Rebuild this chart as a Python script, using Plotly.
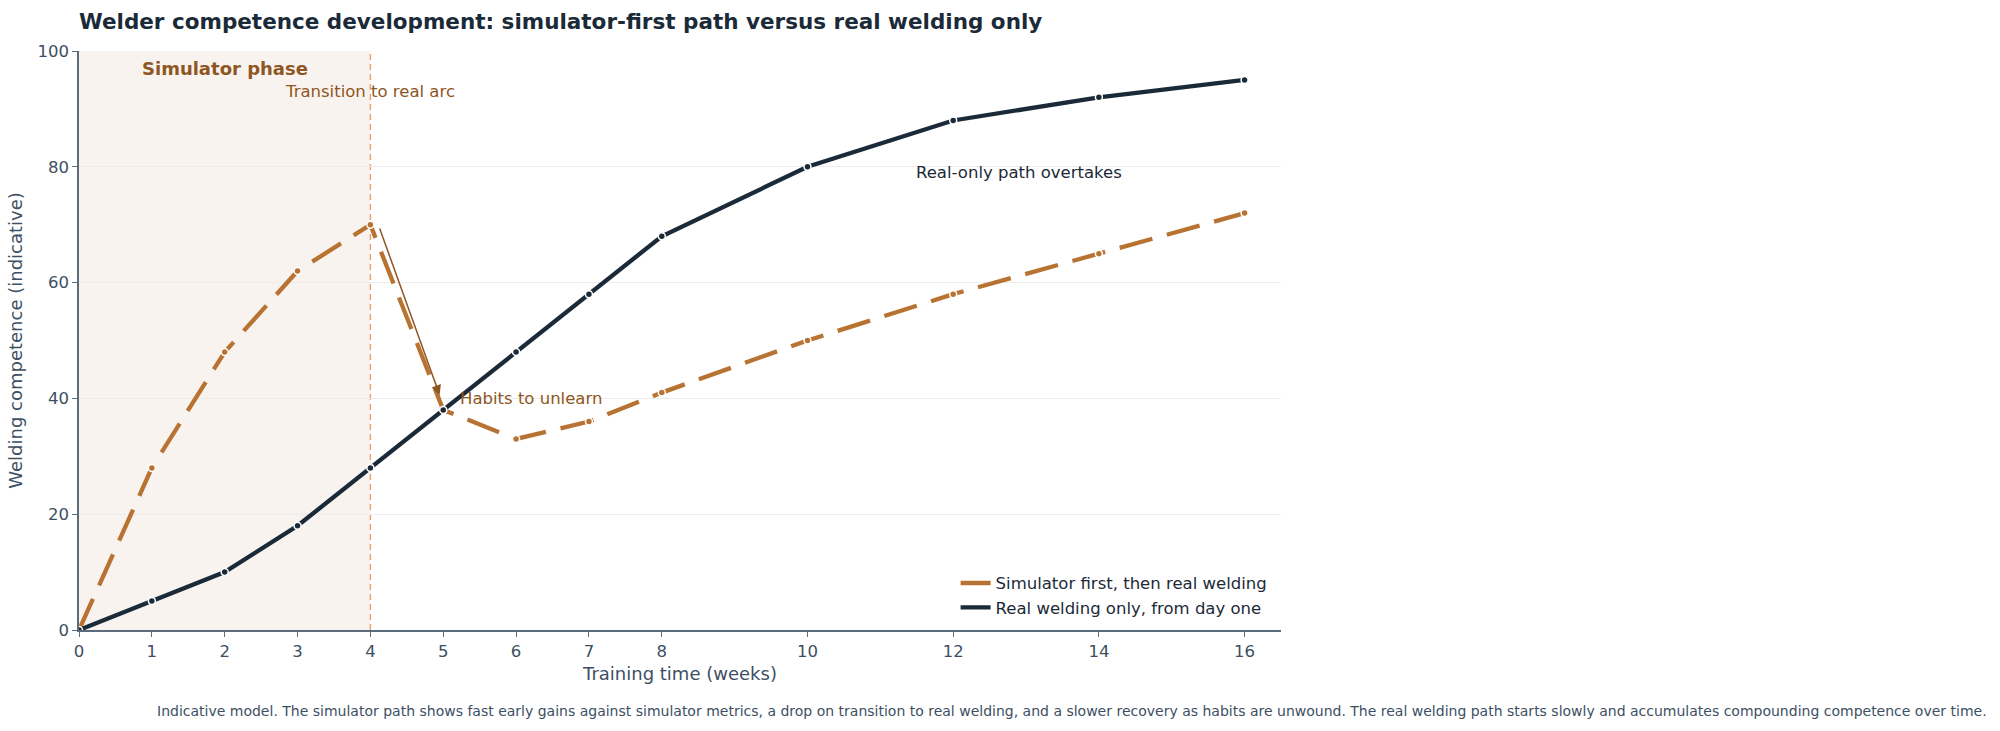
import plotly.graph_objects as go

weeks = [0, 1, 2, 3, 4, 5, 6, 7, 8, 10, 12, 14, 16]
simulator_first = [0, 28, 48, 62, 70, 38, 33, 36, 41, 50, 58, 65, 72]
real_only = [0, 5, 10, 18, 28, 38, 48, 58, 68, 80, 88, 92, 95]
x_ticks = [0, 1, 2, 3, 4, 5, 6, 7, 8, 10, 12, 14, 16]
y_ticks = [0, 20, 40, 60, 80, 100]
series_names = ["Simulator first, then real welding", "Real welding only, from day one"]

COPPER = "#B87333"
NAVY = "#1B2A38"
BROWN = "#8E5623"
SLATE = "#5A6B7B"
TICK = "#3D4F63"
FONT = "DejaVu Sans"

fig = go.Figure()

fig.add_trace(go.Scatter(
    x=weeks, y=simulator_first, mode="lines+markers", showlegend=False,
    name=series_names[0],
    line=dict(color=COPPER, width=4.3, dash="34px,15px"),
    marker=dict(size=7, color=COPPER, line=dict(color="white", width=1.5)),
))
fig.add_trace(go.Scatter(
    x=weeks, y=real_only, mode="lines+markers", showlegend=False,
    name=series_names[1],
    line=dict(color=NAVY, width=4.3),
    marker=dict(size=7, color=NAVY, line=dict(color="white", width=1.5)),
))
# legend entries (plain line samples)
for nm, col in zip(series_names, [COPPER, NAVY]):
    fig.add_trace(go.Scatter(x=[None], y=[None], mode="lines", name=nm,
                             line=dict(color=col, width=4.3)))

# simulator phase shading and transition line
fig.add_shape(type="rect", xref="x", yref="y", x0=0, x1=4, y0=0, y1=100,
              fillcolor="#F9F3F0", line=dict(width=0), layer="below")
fig.add_shape(type="line", xref="x", yref="y", x0=4, x1=4, y0=0, y1=100,
              line=dict(color="#E6A57C", width=1.5, dash="6px,4px"), layer="below")

annotations = [
    dict(x=2, y=97, xref="x", yref="y", text="<b>Simulator phase</b>", showarrow=False,
         font=dict(family=FONT, size=18, color=BROWN), xanchor="center", yanchor="middle"),
    dict(x=4, y=93, xref="x", yref="y", text="Transition to real arc", showarrow=False,
         font=dict(family=FONT, size=16.5, color=BROWN), xanchor="center", yanchor="middle"),
    dict(x=5.2, y=40, xref="x", yref="y", text="Habits to unlearn", showarrow=False,
         font=dict(family=FONT, size=16.5, color=BROWN), xanchor="left", yanchor="middle"),
    dict(x=12.9, y=79, xref="x", yref="y", text="Real-only path overtakes", showarrow=False,
         font=dict(family=FONT, size=16.5, color=NAVY), xanchor="center", yanchor="middle"),
    dict(x=4.95, y=40.6, xref="x", yref="y", ax=4.12, ay=69.6, axref="x", ayref="y",
         text="", showarrow=True, arrowhead=2, arrowsize=1.3, arrowwidth=1.5, arrowcolor=BROWN),
]

fig.update_layout(
    width=2000, height=731,
    paper_bgcolor="white", plot_bgcolor="white",
    margin=dict(l=79, r=719, t=51, b=101),
    font=dict(family=FONT, color=TICK),
    title=dict(text="<b>Welder competence development: simulator-first path versus real welding only</b>",
               x=79 / 2000, xanchor="left", y=1 - 21 / 731, yanchor="middle",
               font=dict(family=FONT, size=21.5, color=NAVY)),
    xaxis=dict(range=[0, 16.5], tickvals=x_ticks, ticktext=[str(v) for v in x_ticks],
               showgrid=False, zeroline=False, showline=True, linecolor=SLATE, linewidth=1.5,
               ticks="outside", ticklen=5, tickcolor=SLATE, tickwidth=1.2,
               tickfont=dict(family=FONT, size=16.5, color=TICK),
               title=dict(text="Training time (weeks)", font=dict(family=FONT, size=18, color=TICK), standoff=8)),
    yaxis=dict(range=[0, 100], tickvals=y_ticks, showgrid=True, gridcolor="#ECECEC", gridwidth=1,
               zeroline=False, showline=True, linecolor=SLATE, linewidth=1.5,
               ticks="outside", ticklen=5, tickcolor=SLATE, tickwidth=1.2,
               tickfont=dict(family=FONT, size=16.5, color=TICK),
               title=dict(text="Welding competence (indicative)", font=dict(family=FONT, size=18, color=TICK), standoff=10)),
    legend=dict(x=0.993, y=0.009, xanchor="right", yanchor="bottom", bgcolor="rgba(255,255,255,0)",
                font=dict(family=FONT, size=16.5, color=NAVY), tracegroupgap=0),
    annotations=annotations,
    showlegend=True,
)

fig.add_annotation(
    x=(1072 - 79) / 1202, y=-(711 - 630) / 579, xref="paper", yref="paper",
    text="Indicative model. The simulator path shows fast early gains against simulator metrics, a drop on transition to real welding, and a slower recovery as habits are unwound. The real welding path starts slowly and accumulates compounding competence over time.",
    showarrow=False, xanchor="center", yanchor="middle",
    font=dict(family=FONT, size=14, color=TICK),
)

fig.write_html("out.html")
